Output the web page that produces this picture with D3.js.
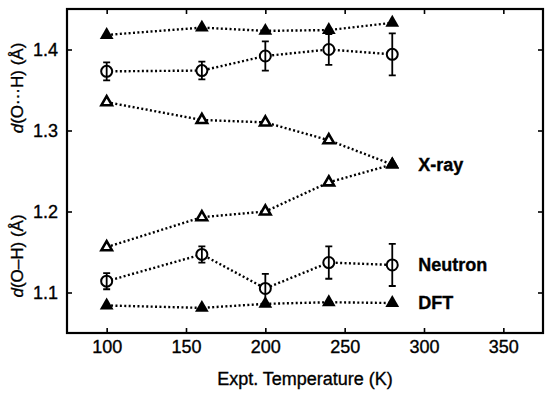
<!DOCTYPE html>
<html>
<head>
<meta charset="utf-8">
<script src="https://cdn.jsdelivr.net/npm/d3@7"></script>
<style>
  body { margin: 0; background: #fff; }
  svg { display: block; font-family: "Liberation Sans", Arial, sans-serif; }
  text { stroke: #000; stroke-width: 0.35px; }
</style>
</head>
<body>
<svg width="550" height="394"></svg>
<script>
// Data
const temps = [100, 160, 200, 240, 280];
const dftHB = [1.418, 1.427, 1.423, 1.424, 1.433];        // d(O···H), DFT
const neutronHB = [1.373, 1.374, 1.392, 1.400, 1.394];    // d(O···H), neutron
const neutronHBErr = [0.011, 0.011, 0.018, 0.019, 0.026];
const xrayHB = [1.335, 1.313, 1.310, 1.288, 1.258];       // d(O···H), X-ray
const xrayOH = [1.156, 1.193, 1.200, 1.236, 1.258];       // d(O–H), X-ray
const neutronOH = [1.114, 1.147, 1.105, 1.137, 1.134];    // d(O–H), neutron
const neutronOHErr = [0.010, 0.010, 0.018, 0.020, 0.026];
const dftOH = [1.084, 1.081, 1.086, 1.088, 1.087];        // d(O–H), DFT
const xTicks = [100, 150, 200, 250, 300, 350];
const yTicks = [1.1, 1.2, 1.3, 1.4];

const svg = d3.select("svg");
const width = +svg.attr("width");
const height = +svg.attr("height");
const margin = {top: 9, right: 7, bottom: 61, left: 67};

const x = d3.scaleLinear().domain([75, 375]).range([margin.left, width - margin.right]);
const y = d3.scaleLinear().domain([1.05, 1.45]).range([height - margin.bottom, margin.top]);

// axes with inward ticks
function styleAxis(g) {
  g.select(".domain").remove();
  g.selectAll(".tick line").attr("stroke", "#000").attr("stroke-width", 1.6);
  g.selectAll(".tick text").attr("fill", "#000").attr("font-size", 18);
}
svg.append("g")
  .attr("transform", `translate(0,${height - margin.bottom})`)
  .call(d3.axisBottom(x).tickValues(xTicks).tickSize(-5).tickPadding(7).tickFormat(d3.format("d")))
  .call(styleAxis);
svg.append("g")
  .attr("transform", `translate(0,${margin.top})`)
  .call(d3.axisTop(x).tickValues(xTicks).tickSize(-5).tickFormat(""))
  .call(styleAxis);
svg.append("g")
  .attr("transform", `translate(${margin.left},0)`)
  .call(d3.axisLeft(y).tickValues(yTicks).tickSize(-5).tickPadding(9).tickFormat(d3.format(".1f")))
  .call(styleAxis);
svg.append("g")
  .attr("transform", `translate(${width - margin.right},0)`)
  .call(d3.axisRight(y).tickValues(yTicks).tickSize(-5).tickFormat(""))
  .call(styleAxis);

svg.append("rect")
  .attr("x", margin.left).attr("y", margin.top)
  .attr("width", width - margin.left - margin.right)
  .attr("height", height - margin.top - margin.bottom)
  .attr("fill", "none").attr("stroke", "#000").attr("stroke-width", 2.2);

// titles
svg.append("text")
  .attr("x", (margin.left + width - margin.right) / 2).attr("y", 385)
  .attr("text-anchor", "middle").attr("font-size", 18).attr("fill", "#000")
  .text("Expt. Temperature (K)");

function yTitle(cy, rest) {
  const t = svg.append("text")
    .attr("transform", `translate(23,${cy}) rotate(-90)`)
    .attr("text-anchor", "middle").attr("font-size", 17).attr("fill", "#000");
  t.append("tspan").attr("font-style", "italic").text("d");
  t.append("tspan").text(rest);
}
yTitle(88, "(O\u00B7\u00B7\u00B7H) (\u00C5)");
yTitle(256, "(O\u2013H) (\u00C5)");

// series
const line = d3.line().x(d => x(d.t)).y(d => y(d.v));
const toPts = (vals, errs) => temps.map((t, i) => ({t, v: vals[i], e: errs ? errs[i] : 0}));

const series = [
  {pts: toPts(dftHB), mark: "filled"},
  {pts: toPts(neutronHB, neutronHBErr), mark: "circle"},
  {pts: toPts(xrayHB), mark: "open"},
  {pts: toPts(xrayOH), mark: "open"},
  {pts: toPts(neutronOH, neutronOHErr), mark: "circle"},
  {pts: toPts(dftOH), mark: "filled"}
];

series.forEach(s => {
  svg.append("path")
    .datum(s.pts)
    .attr("fill", "none")
    .attr("stroke", "#000")
    .attr("stroke-width", 2.4)
    .attr("stroke-dasharray", "2,2.4")
    .attr("d", line);
});

const filledTri = d3.symbol(d3.symbolTriangle, 82);
const openTri = d3.symbol(d3.symbolTriangle, 48);

series.forEach(s => {
  const g = svg.append("g");
  s.pts.forEach((p, i) => {
    const cx = x(p.t), cy = y(p.v);
    // the X-ray curves meet at 280 K, drawn as one filled marker
    const last = i === s.pts.length - 1;
    if (s.mark === "filled" || (s.mark === "open" && last)) {
      g.append("path").attr("d", filledTri).attr("transform", `translate(${cx},${cy})`)
        .attr("fill", "#000");
    } else if (s.mark === "open") {
      g.append("path").attr("d", openTri).attr("transform", `translate(${cx},${cy})`)
        .attr("fill", "#fff").attr("stroke", "#000").attr("stroke-width", 2.6);
    } else {
      g.append("circle").attr("cx", cx).attr("cy", cy).attr("r", 5.5)
        .attr("fill", "#fff").attr("stroke", "#000").attr("stroke-width", 2);
      const y0 = y(p.v - p.e), y1 = y(p.v + p.e);
      g.append("path")
        .attr("d", `M${cx},${y0}V${y1}M${cx - 3.5},${y0}H${cx + 3.5}M${cx - 3.5},${y1}H${cx + 3.5}`)
        .attr("fill", "none").attr("stroke", "#000").attr("stroke-width", 1.8);
    }
  });
});

// series labels next to the last point
const labels = [
  {text: "X-ray", v: xrayOH[xrayOH.length - 1]},
  {text: "Neutron", v: neutronOH[neutronOH.length - 1]},
  {text: "DFT", v: dftOH[dftOH.length - 1]}
];
svg.selectAll(".lab").data(labels).join("text")
  .attr("x", x(temps[temps.length - 1]) + 26)
  .attr("y", d => y(d.v))
  .attr("dy", "0.35em")
  .attr("font-size", 18).attr("font-weight", "bold").attr("fill", "#000")
  .text(d => d.text);
</script>
</body>
</html>
